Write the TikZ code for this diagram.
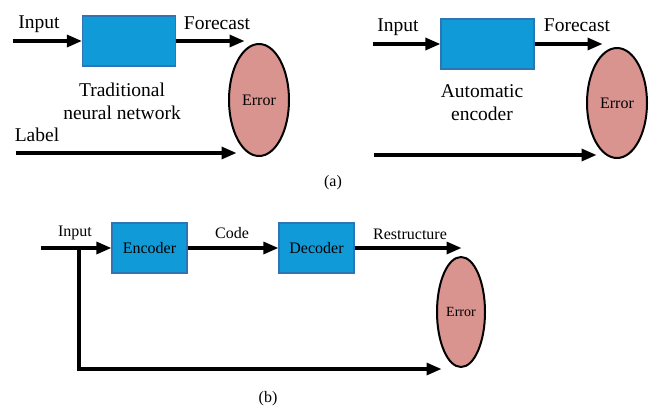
\documentclass[tikz,border=0pt]{standalone}
\usepackage{fontspec}
\setmainfont{Liberation Serif}
\usetikzlibrary{shapes.geometric, arrows, arrows.meta}
\definecolor{boxblue}{RGB}{16,155,216}
\definecolor{boxedge}{RGB}{46,117,182}
\definecolor{errpink}{RGB}{217,148,144}
\tikzstyle{block} = [rectangle, draw=boxedge, line width=1.2pt, fill=boxblue, minimum width=93pt, minimum height=50pt, inner sep=0, font=\fontsize{16}{18}\selectfont]
\tikzstyle{errnode} = [ellipse, draw, line width=2pt, fill=errpink, minimum width=60pt, minimum height=112pt, inner sep=0, font=\fontsize{16}{18}\selectfont]
\tikzstyle{blank} = [inner sep=0,outer sep=0]
\tikzstyle{lbl} = [inner sep=0, font=\fontsize{19.5}{23}\selectfont]
\tikzstyle{lblb} = [inner sep=0, font=\fontsize{16}{18}\selectfont]
\tikzstyle{line} = [draw,->,>={Triangle[length=15pt,width=12pt]}, line width=3.2pt]

\begin{document}
\begin{tikzpicture}[x=1pt, y=1pt]
\useasboundingbox (0,0) rectangle (650,-410);

% (a) traditional network
\node [block] (TN) at (129,-41) {};
\node [blank] (in0) at (12,-41) {};
\node [blank] (fc0) at (245,-41) {};
\node [errnode] (E0) at (259,-100) {Error};
\node [blank] (lb0) at (15,-153) {};
\node [blank] (lb1) at (237,-153) {};
\node [lbl] (tIn0) at (39,-24) {Input};
\node [lbl] (tFc0) at (217,-23) {Forecast};
\node [lbl, align=center] (tTN) at (122,-101) {Traditional\\neural network};
\node [lbl] (tLb) at (37,-135) {Label};

\path [line] (in0) -- (TN);
\path [line] (TN) -- (fc0);
\path [line] (lb0) -- (lb1);

% (a) automatic encoder
\node [block] (AE) at (487.5,-44) {};
\node [blank] (in1) at (372,-44) {};
\node [blank] (fc1) at (603,-44) {};
\node [errnode, minimum height=110pt] (E1) at (617,-103) {Error};
\node [blank] (ae0) at (373,-155) {};
\node [blank] (ae1) at (597,-155) {};
\node [lbl] (tIn1) at (398,-27) {Input};
\node [lbl] (tFc1) at (577,-25) {Forecast};
\node [lbl, align=center] (tAE) at (482,-103) {Automatic\\encoder};
\node [lblb] (capA) at (333,-183) {(a)};

\path [line] (in1) -- (AE);
\path [line] (AE) -- (fc1);
\path [line] (ae0) -- (ae1);

% (b) encoder / decoder
\node [block, minimum width=75pt] (Enc) at (149.5,-248) {Encoder};
\node [block, minimum width=75pt] (Dec) at (316.5,-248) {Decoder};
\node [blank] (in2) at (40,-248) {};
\coordinate (br) at (79,-248);
\node [blank] (fb) at (442,-369) {};
\node [blank] (rs) at (462,-248) {};
\node [errnode, minimum width=48pt, minimum height=110pt, font=\fontsize{14}{16}\selectfont] (E2) at (461,-312) {Error};
\node [lblb] (tIn2) at (75,-233) {Input};
\node [lblb] (tCode) at (232,-233) {Code};
\node [lblb] (tRs) at (410,-234) {Restructure};
\node [lblb] (capB) at (268,-399) {(b)};

\path [line] (in2) -- (Enc);
\path [line] (Enc) -- (Dec);
\path [line] (Dec) -- (rs);
\path [line] (br) |- (fb);

\end{tikzpicture}
\end{document}
